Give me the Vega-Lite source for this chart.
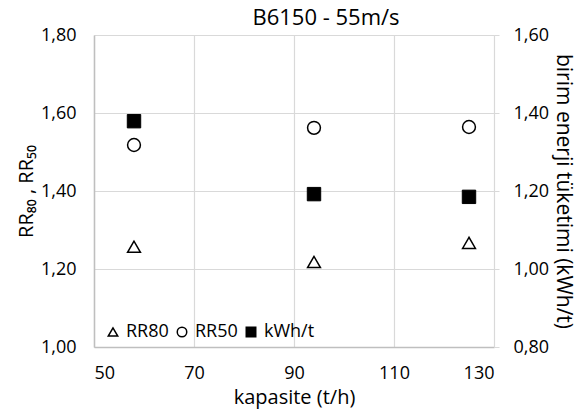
{
  "$schema": "https://vega.github.io/schema/vega-lite/v6.json",
  "width": 400,
  "height": 312,
  "autosize": {"type": "none"},
  "padding": {"left": 94, "top": 35, "right": 86, "bottom": 63},
  "background": "white",
  "title": {"text": "B6150 - 55m/s", "fontSize": 22, "font": "Open Sans", "fontWeight": "normal", "color": "black", "anchor": "middle", "frame": "group", "dx": 32, "dy": 14, "baseline": "top", "offset": 10},
  "data": {
    "values": [
      {"x": 58, "series": "RR80", "value": 1.257},
      {"x": 58, "series": "RR50", "value": 1.518},
      {"x": 58, "series": "kWh/t", "value": 1.379},
      {"x": 94, "series": "RR80", "value": 1.218},
      {"x": 94, "series": "RR50", "value": 1.562},
      {"x": 94, "series": "kWh/t", "value": 1.192},
      {"x": 125, "series": "RR80", "value": 1.267},
      {"x": 125, "series": "RR50", "value": 1.564},
      {"x": 125, "series": "kWh/t", "value": 1.185}
    ]
  },
  "layer": [
    {
      "transform": [{"filter": "datum.series !== 'kWh/t'"}],
      "mark": {"type": "point", "filled": true, "stroke": "black", "strokeWidth": 1.5, "opacity": 1, "size": 165},
      "encoding": {
        "x": {"field": "x", "type": "quantitative", "scale": {"domain": [50, 130], "nice": false, "zero": false},
          "axis": {"values": [50, 70, 90, 110, 130], "title": "kapasite (t/h)", "grid": true, "ticks": false, "labelPadding": 17, "domainColor": "#bfbfbf", "domainWidth": 1.5, "titlePadding": 5}},
        "y": {"field": "value", "type": "quantitative", "scale": {"domain": [1.0, 1.8], "nice": false, "zero": false},
          "axis": {"orient": "left", "values": [1.0, 1.2, 1.4, 1.6, 1.8], "format": ".2f", "title": "RR₈₀ , RR₅₀", "grid": true, "ticks": false, "labelPadding": 18, "domainColor": "#bfbfbf", "domainWidth": 1.5, "titlePadding": 4}},
        "shape": {"field": "series", "type": "nominal", "scale": {"domain": ["RR80", "RR50", "kWh/t"], "range": ["triangle-up", "circle", "square"]},
          "legend": {"orient": "none", "legendX": 10, "legendY": 288, "direction": "horizontal", "title": null, "symbolSize": 90, "labelFontSize": 18, "columnPadding": 4, "labelOffset": 4, "padding": 0,
            "encode": {"symbols": {"update": {"stroke": {"value": "black"}, "strokeWidth": {"value": 1.5}}}}}},
        "fill": {"field": "series", "type": "nominal", "scale": {"domain": ["RR80", "RR50", "kWh/t"], "range": ["white", "white", "black"]},
          "legend": {"orient": "none", "legendX": 10, "legendY": 288, "direction": "horizontal", "title": null, "symbolSize": 90, "labelFontSize": 18, "columnPadding": 4, "labelOffset": 4, "padding": 0,
            "encode": {"symbols": {"update": {"stroke": {"value": "black"}, "strokeWidth": {"value": 1.5}}}}}}
      }
    },
    {
      "transform": [{"filter": "datum.series === 'kWh/t'"}],
      "mark": {"type": "point", "filled": true, "stroke": "black", "strokeWidth": 1, "opacity": 1, "size": 180},
      "encoding": {
        "x": {"field": "x", "type": "quantitative", "scale": {"domain": [50, 130], "nice": false, "zero": false},
          "axis": {"values": [50, 70, 90, 110, 130], "title": "kapasite (t/h)", "grid": true, "ticks": false, "labelPadding": 17, "domainColor": "#bfbfbf", "domainWidth": 1.5, "titlePadding": 5}},
        "y": {"field": "value", "type": "quantitative", "scale": {"domain": [0.8, 1.6], "nice": false, "zero": false},
          "axis": {"orient": "right", "values": [0.8, 1.0, 1.2, 1.4, 1.6], "format": ".2f", "title": "birim enerji tüketimi (kWh/t)", "titleFontSize": 21, "grid": false, "ticks": true, "tickSize": 5, "tickColor": "#d9d9d9", "domainColor": "#d9d9d9", "labelPadding": 14, "titlePadding": 4}},
        "shape": {"field": "series", "type": "nominal", "scale": {"domain": ["RR80", "RR50", "kWh/t"], "range": ["triangle-up", "circle", "square"]}},
        "fill": {"field": "series", "type": "nominal", "scale": {"domain": ["RR80", "RR50", "kWh/t"], "range": ["white", "white", "black"]}}
      }
    }
  ],
  "resolve": {"scale": {"y": "independent"}},
  "config": {
    "font": "Open Sans",
    "locale": {"number": {"decimal": ",", "thousands": ".", "grouping": [3], "currency": ["", " €"]}},
    "view": {"stroke": null},
    "axis": {"labelFontSize": 18, "titleFontSize": 20, "titleFontWeight": "normal", "labelColor": "black", "titleColor": "black", "gridColor": "#d9d9d9", "gridWidth": 1.2, "labelFont": "Open Sans", "titleFont": "Open Sans"},
    "legend": {"labelFontSize": 18, "labelColor": "black", "labelFont": "Open Sans"}
  }
}
